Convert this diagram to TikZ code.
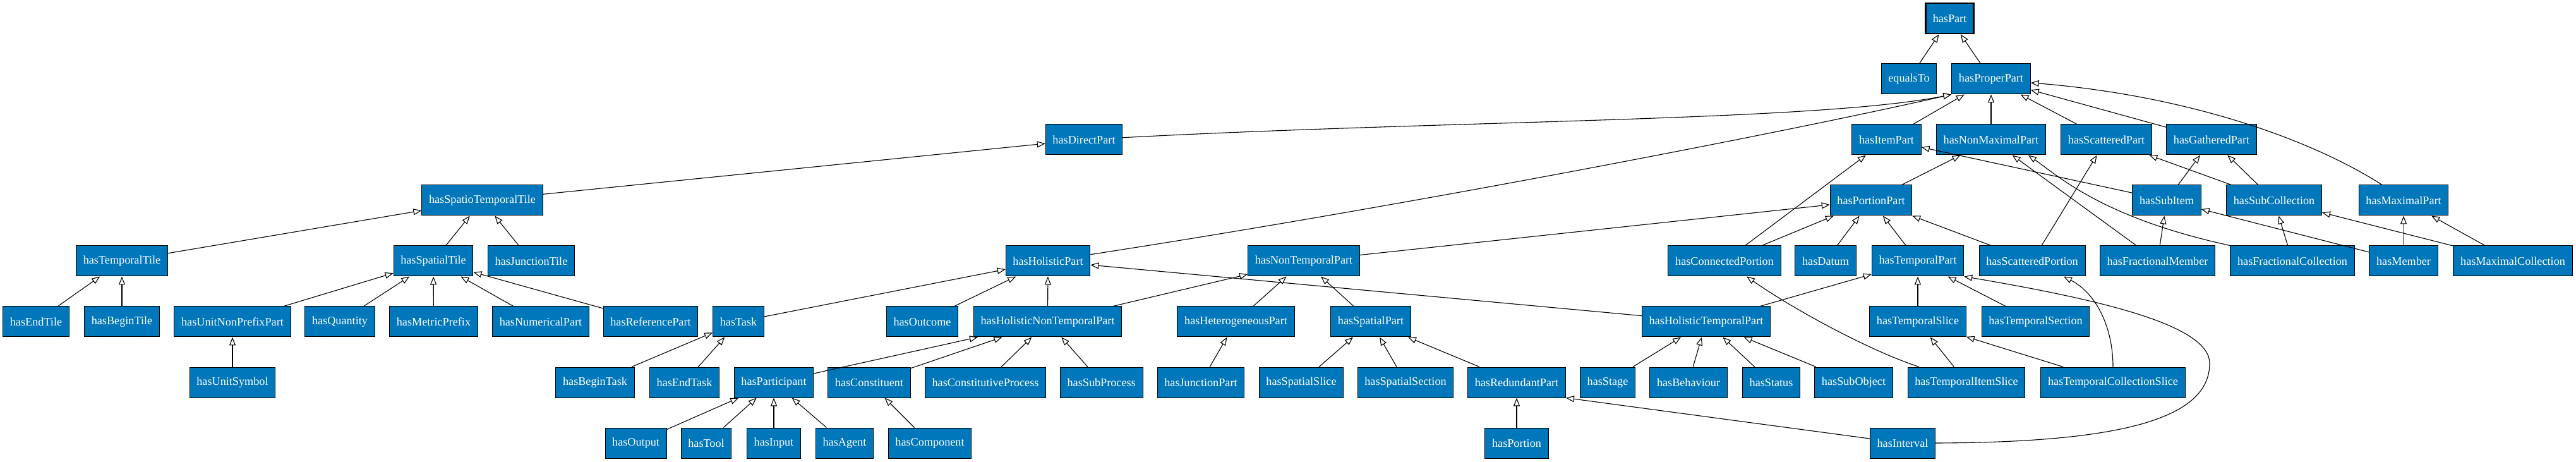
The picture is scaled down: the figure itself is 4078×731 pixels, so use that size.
\documentclass[tikz,border=0pt]{standalone}
\usepackage{fontspec}
\setmainfont{Liberation Serif}
\usetikzlibrary{arrows.meta,calc}
\definecolor{nodeblue}{RGB}{0,119,187}
\begin{document}
\begin{tikzpicture}[x=0.5pt,y=-0.5pt,
  nb/.style={draw=black,line width=0.5pt,fill=nodeblue,text=white,
    font=\fontsize{9.1}{10}\selectfont,inner xsep=5.6pt,inner ysep=0pt,
    minimum height=24pt},
  rootbox/.style={nb,line width=1.3pt},
  ed/.style={draw=black,line width=0.55pt,
    -{Triangle[open,fill=white,length=6.5pt,width=5pt]}}]
\useasboundingbox (0,0) rectangle (4078,731);
% row 0
\node[rootbox] (part) at (3086.5,29) {hasPart};
% row 1
\node[nb] (eq) at (3022,125) {equalsTo};
\node[nb] (pp) at (3152,125) {hasProperPart};
% row 2
\node[nb] (dp) at (1716,221) {hasDirectPart};
\node[nb] (ip) at (2986.5,221) {hasItemPart};
\node[nb] (nmp) at (3152,221) {hasNonMaximalPart};
\node[nb] (sp) at (3334.5,221) {hasScatteredPart};
\node[nb] (gp) at (3501,221) {hasGatheredPart};
% row 3
\node[nb] (stt) at (763.5,317) {hasSpatioTemporalTile};
\node[nb] (pop) at (2962,317) {hasPortionPart};
\node[nb] (si) at (3430,317) {hasSubItem};
\node[nb] (sc) at (3600,317) {hasSubCollection};
\node[nb] (mp) at (3805,317) {hasMaximalPart};
% row 4
\node[nb] (tt) at (193,413) {hasTemporalTile};
\node[nb] (st) at (686,413) {hasSpatialTile};
\node[nb] (jt) at (841,413) {hasJunctionTile};
\node[nb] (hop) at (1659,413) {hasHolisticPart};
\node[nb] (ntp) at (2064,413) {hasNonTemporalPart};
\node[nb] (cp) at (2730,413) {hasConnectedPortion};
\node[nb] (da) at (2890,413) {hasDatum};
\node[nb] (tp) at (3036,413) {hasTemporalPart};
\node[nb] (spo) at (3217,413) {hasScatteredPortion};
\node[nb] (fm) at (3415.5,413) {hasFractionalMember};
\node[nb] (fc) at (3629,413) {hasFractionalCollection};
\node[nb] (me) at (3805,413) {hasMember};
\node[nb] (mc) at (3978,413) {hasMaximalCollection};
% row 5
\node[nb] (et) at (57,509) {hasEndTile};
\node[nb] (bt) at (193,509) {hasBeginTile};
\node[nb] (unp) at (368,509) {hasUnitNonPrefixPart};
\node[nb] (qu) at (538,509) {hasQuantity};
\node[nb] (mpx) at (686.5,509) {hasMetricPrefix};
\node[nb] (nup) at (856,509) {hasNumericalPart};
\node[nb] (rp) at (1030,509) {hasReferencePart};
\node[nb] (ta) at (1169,509) {hasTask};
\node[nb] (oc) at (1460,509) {hasOutcome};
\node[nb] (hntp) at (1658.5,509) {hasHolisticNonTemporalPart};
\node[nb] (hep) at (1956.5,509) {hasHeterogeneousPart};
\node[nb] (spp) at (2170,509) {hasSpatialPart};
\node[nb] (htp) at (2701,509) {hasHolisticTemporalPart};
\node[nb] (ts) at (3036,509) {hasTemporalSlice};
\node[nb] (tse) at (3222.5,509) {hasTemporalSection};
% row 6
\node[nb] (us) at (368,605) {hasUnitSymbol};
\node[nb] (bta) at (942,605) {hasBeginTask};
\node[nb] (eta) at (1083.5,605) {hasEndTask};
\node[nb] (pa) at (1225,605) {hasParticipant};
\node[nb] (co) at (1376,605) {hasConstituent};
\node[nb] (cpr) at (1560,605) {hasConstitutiveProcess};
\node[nb] (spr) at (1743.7,605) {hasSubProcess};
\node[nb] (jp) at (1901,605) {hasJunctionPart};
\node[nb] (ssl) at (2060,605) {hasSpatialSlice};
\node[nb] (sse) at (2225,605) {hasSpatialSection};
\node[nb] (rdp) at (2401,605) {hasRedundantPart};
\node[nb] (sta) at (2545,605) {hasStage};
\node[nb] (be) at (2673,605) {hasBehaviour};
\node[nb] (stu) at (2804,605) {hasStatus};
\node[nb] (so) at (2934.5,605) {hasSubObject};
\node[nb] (tis) at (3113,605) {hasTemporalItemSlice};
\node[nb] (tcs) at (3345,605) {hasTemporalCollectionSlice};
% row 7
\node[nb] (ou) at (1006.6,701) {hasOutput};
\node[nb] (hto) at (1118,701) {hasTool};
\node[nb] (hin) at (1225,701) {hasInput};
\node[nb] (ag) at (1337,701) {hasAgent};
\node[nb] (com) at (1472,701) {hasComponent};
\node[nb] (por) at (2401,701) {hasPortion};
\node[nb] (iv) at (3012,701) {hasInterval};
% edges
\foreach \c/\p in {eq/part,pp/part,ip/pp,nmp/pp,sp/pp,gp/pp,
  stt/dp,tt/stt,st/stt,jt/stt,et/tt,bt/tt,unp/st,qu/st,mpx/st,nup/st,rp/st,us/unp,
  ta/hop,oc/hop,hntp/hop,htp/hop,hntp/ntp,bta/ta,eta/ta,pa/hntp,co/hntp,cpr/hntp,spr/hntp,
  ou/pa,hto/pa,hin/pa,ag/pa,com/co,hep/ntp,jp/hep,spp/ntp,ntp/pop,
  ssl/spp,sse/spp,rdp/spp,por/rdp,sta/htp,be/htp,stu/htp,so/htp,htp/tp,
  cp/ip,cp/pop,da/pop,tp/pop,spo/pop,pop/nmp,spo/sp,fm/nmp,fm/si,si/ip,si/gp,
  sc/gp,sc/sp,fc/sc,me/si,me/mp,mc/sc,mc/mp,ts/tp,tse/tp,tis/ts,tcs/ts}
  {\draw[ed] (\c) -- (\p);}
\draw[ed] (dp) .. controls (2300,190) and (2880,192) .. (pp.south west);
\draw[ed] (hop) .. controls (2200,330) and (2800,215) .. (pp.south west);
\draw[ed] ($(mp.north)+(-34,0)$) .. controls (3650,215) and (3450,150) .. ($(pp.east)+(0,6)$);
\draw[ed] (fc.north west) .. controls (3330,345) and (3260,280) .. ($(nmp.south)+(59,0)$);
\draw[ed] (tis) .. controls (2960,555) and (2840,490) .. (cp);
\draw[ed] (tcs.north) .. controls (3345,520) and (3320,465) .. ($(spo.south)+(50,0)$);
\draw[ed] (iv.east) .. controls (3350,700) and (3498,665) .. (3498,575)
  .. controls (3498,515) and (3330,475) .. (tp.south east);
\draw[ed] (iv) -- (rdp.south east);
\end{tikzpicture}
\end{document}
